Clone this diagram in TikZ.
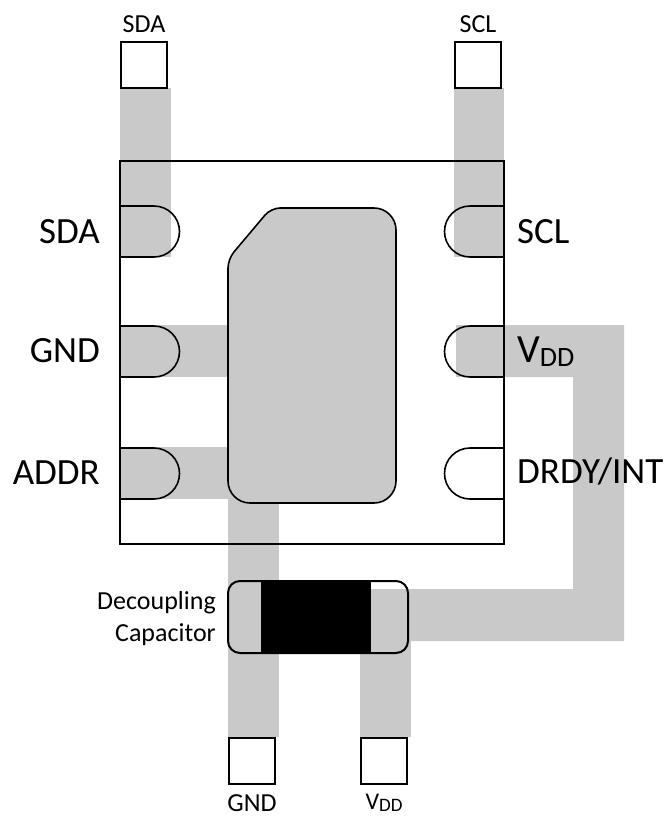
\documentclass[tikz,border=0pt]{standalone}
\usepackage{fontspec}
\setmainfont{Carlito}
\definecolor{tracegray}{RGB}{201,201,201}
\newcommand{\Vdd}[1]{V\raisebox{-0.12em}{\fontsize{#1}{#1}\selectfont DD}}
\tikzset{
	trace/.style = {fill = tracegray, draw = none},
	outline/.style = {draw = black, line width = 1.6pt},
	testpad/.style = {draw = black, fill = white, line width = 2pt, minimum size = 46pt, inner sep = 0pt},
	bigpin/.style = {font = \fontsize{37}{37}\selectfont, inner sep = 0pt},
	smallpin/.style = {font = \fontsize{26}{26}\selectfont, inner sep = 0pt}
}
\begin{document}
\begin{tikzpicture}[x = 1pt, y = -1pt]
	\useasboundingbox ( 0, 0 ) rectangle ( 668, 817 );
	% copper
	\fill [trace] ( 120, 88 ) rectangle ( 171, 257 );
	\fill [trace] ( 454, 88 ) rectangle ( 504, 257 );
	\fill [trace] ( 120, 325 ) rectangle ( 235, 377 );
	\fill [trace] ( 120, 447 ) rectangle ( 235, 499 );
	\fill [trace] ( 228, 490 ) rectangle ( 279, 737 );
	\fill [trace] ( 360, 641 ) rectangle ( 411, 737 );
	\fill [trace] ( 456, 325 ) -- ( 624, 325 ) -- ( 624, 641 ) -- ( 371, 641 ) -- ( 371, 589 ) -- ( 573, 589 ) -- ( 573, 377 ) -- ( 456, 377 ) -- cycle;
	% package
	\draw [line width = 2.2pt, line join = miter] ( 120, 161 ) rectangle ( 504, 544 );
	% thermal pad
	\draw [outline, fill = tracegray, rounded corners = 9pt] ( 228, 400 ) -- ( 228, 259 ) -- ( 271, 208 ) [rounded corners = 22pt] -- ( 396, 208 ) -- ( 396, 503 ) -- ( 228, 503 ) -- cycle;
	% pins left
	\foreach \pintop in { 206, 326, 448 }
	{
		\draw [outline] ( 120, \pintop ) -- ( 154, \pintop ) arc [start angle = 90, end angle = -90, x radius = 25.5, y radius = -25.5] -- ( 120, \pintop + 51 );
		\draw [outline] ( 504, \pintop ) -- ( 470, \pintop ) arc [start angle = 90, end angle = 270, x radius = 25.5, y radius = -25.5] -- ( 504, \pintop + 51 );
	}
	% capacitor
	\fill [black] ( 261, 581 ) rectangle ( 371, 653 );
	\draw [outline, line width = 2pt, rounded corners = 12pt] ( 228, 581 ) rectangle ( 408, 653 );
	% test points
	\node [testpad] (sda pad) at ( 144, 64.5 ) {};
	\node [testpad] (scl pad) at ( 478, 64.5 ) {};
	\node [testpad] (gnd pad) at ( 252, 760.5 ) {};
	\node [testpad] (vdd pad) at ( 384, 760.5 ) {};
	% labels
	\node [smallpin, anchor = base] (sda top) at ( 144, 32 ) {SDA};
	\node [smallpin, anchor = base] (scl top) at ( 478, 32 ) {SCL};
	\node [smallpin, anchor = base] (gnd bottom) at ( 252, 811 ) {GND};
	\node [smallpin, anchor = base] (vdd bottom) at ( 384, 809 ) {\fontsize{24}{24}\selectfont\Vdd{19}};
	\node [smallpin, anchor = base east] (cap one) at ( 216, 609 ) {Decoupling};
	\node [smallpin, anchor = base east] (cap two) at ( 216, 641 ) {Capacitor};
	\node [bigpin, anchor = base east] (sda pin) at ( 100, 243 ) {SDA};
	\node [bigpin, anchor = base east] (gnd pin) at ( 100, 362 ) {GND};
	\node [bigpin, anchor = base east] (addr pin) at ( 100, 484 ) {ADDR};
	\node [bigpin, anchor = base west] (scl pin) at ( 517, 243 ) {SCL};
	\node [bigpin, anchor = base west] (vdd pin) at ( 517, 362 ) {\fontsize{40}{40}\selectfont\Vdd{28}};
	\node [bigpin, anchor = base west] (drdy pin) at ( 517, 483 ) {DRDY/INT};
\end{tikzpicture}
\end{document}
